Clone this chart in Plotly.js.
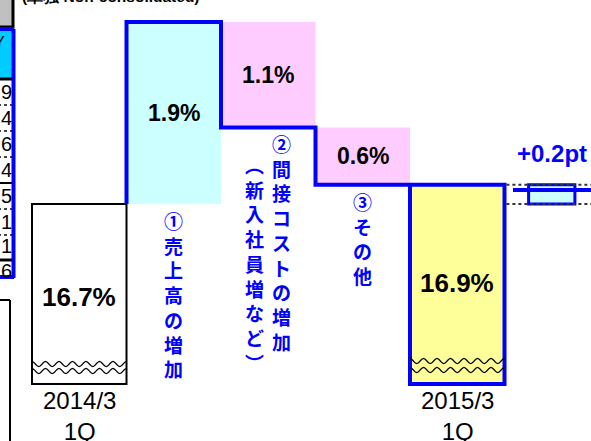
<!DOCTYPE html>
<html><head><meta charset="utf-8">
<script src="https://cdn.plot.ly/plotly-3.0.1.min.js"></script>
<style>html,body{margin:0;padding:0;background:#fff;overflow:hidden}#chart{width:591px;height:441px}</style>
</head><body><div id="chart"></div>
<script>
// ---------------- data ----------------
const periodLabels = ['2014/3<br>1Q', '2015/3<br>1Q'];
const periodMargins = [16.7, 16.9];                 // margin, %
const stepValues = [1.9, -1.1, -0.6];               // change factors, %pt
const stepLabels = ['①売上高の増加', '②間接コストの増加', '③その他'];
const stepNotes = ['', '（新入社員増など）', ''];
const headerNote = '(単独 Non-consolidated)';
const tableHeader = 'Y';
const tableDigits = ['9', '4', '6', '4', '5', '1', '1', '6'];

// ---------------- geometry (layout only) ----------------
const W = 591, H = 441;
const PX_PER_X = 94.5, PX_PER_Y = 95.8;
const X_MIN = -0.5 - 32 / PX_PER_X;
const X_MAX = X_MIN + W / PX_PER_X;
const Y_TOP = 18.6 + 22 / PX_PER_Y;
const Y_MIN = Y_TOP - H / PX_PER_Y;
const AXIS_BREAK = Y_TOP - 384 / PX_PER_Y;   // truncated axis base
const px2x = px => X_MIN + px / PX_PER_X;
const py2y = py => Y_TOP - py / PX_PER_Y;

const BLUE = '#0000FF';
const NUM_FONT = 'Liberation Sans, Arial, sans-serif';
const JP_FONT = 'Noto Sans CJK JP, sans-serif';

// ---------------- traces ----------------
const periodX = [0, stepValues.length + 1];
const traces = [];
traces.push({
  type: 'bar', x: periodX,
  base: periodMargins.map(() => AXIS_BREAK),
  y: periodMargins.map(m => m - AXIS_BREAK),
  width: 1,
  marker: {color: ['#FFFFFF', '#FFFF99'], line: {color: ['#000000', BLUE], width: [2, 4]}},
  hoverinfo: 'skip'
});
let cum = periodMargins[0];
const stepBase = [], stepH = [], stepMid = [], lineX = [0.5], lineY = [cum];
stepValues.forEach((v, i) => {
  const lo = Math.min(cum, cum + v);
  stepBase.push(lo); stepH.push(Math.abs(v)); stepMid.push(lo + Math.abs(v) / 2);
  lineX.push(i + 0.5); lineY.push(cum + v);
  lineX.push(i + 1.5); lineY.push(cum + v);
  cum += v;
});
traces.push({
  type: 'bar', x: stepValues.map((v, i) => i + 1), base: stepBase, y: stepH, width: 1,
  marker: {color: stepValues.map(v => v >= 0 ? '#CCFFFF' : '#FFCCFF'), line: {width: 0}},
  hoverinfo: 'skip'
});
const diff = periodMargins[1] - periodMargins[0];
traces.push({
  type: 'bar', x: [stepValues.length + 2], base: [periodMargins[0]], y: [diff], width: 0.49,
  marker: {color: '#CCFFFF', line: {color: BLUE, width: 3}}, hoverinfo: 'skip'
});
traces.push({
  type: 'scatter', mode: 'lines', x: lineX, y: lineY,
  line: {color: BLUE, width: 4}, hoverinfo: 'skip'
});

// ---------------- shapes ----------------
function wavePath(x0, x1, yPx, periods, amp) {
  const n = periods * 10; let d = '';
  for (let i = 0; i <= n; i++) {
    const t = i / n;
    const x = x0 + (x1 - x0) * t;
    const y = py2y(yPx - amp * Math.cos(2 * Math.PI * periods * t));
    d += (i ? 'L' : 'M') + x.toFixed(4) + ',' + y.toFixed(4);
  }
  return d;
}
const shapes = [];
[[0, 364, 371], [periodX[1], 361, 370]].forEach(([xc, a, b]) => {
  [a, b].forEach(yp => shapes.push({type: 'path', xref: 'x', yref: 'y',
    path: wavePath(xc - 0.5, xc + 0.5, yp, 7, 2.5), line: {color: '#000', width: 1.2}}));
});
periodMargins.forEach(m => shapes.push({type: 'line', xref: 'x', yref: 'y',
  x0: periodX[1] + 0.52, x1: X_MAX, y0: m, y1: m, line: {color: '#333', width: 2, dash: 'dot'}}));
shapes.push({type: 'line', xref: 'x', yref: 'y', x0: px2x(513), x1: X_MAX,
  y0: py2y(190), y1: py2y(190), line: {color: BLUE, width: 4}});

// left partial table (cropped slide)
const R = (x0, y0, x1, y1, fill, lc, lw, dash) => shapes.push({type: 'rect', xref: 'x', yref: 'y',
  x0: px2x(x0), x1: px2x(x1), y0: py2y(y0), y1: py2y(y1), fillcolor: fill,
  line: {color: lc, width: lw, dash: dash || 'solid'}, layer: 'below'});
const L = (x0, y0, x1, y1, lc, lw, dash) => shapes.push({type: 'line', xref: 'x', yref: 'y',
  x0: px2x(x0), x1: px2x(x1), y0: py2y(y0), y1: py2y(y1), line: {color: lc, width: lw, dash: dash || 'solid'}});
R(-6, -6, 13, 27, '#C0C0C0', '#000', 3);
R(-6, 30, 13, 78, '#00CCFF', 'rgba(0,0,0,0)', 0);
const rowLines = [[79, 'solid', 3], [105, 'dot', 2], [131, 'dot', 2], [157, 'dot', 2], [183, 'solid', 2], [209, 'dot', 2], [235, 'dot', 2], [260, 'solid', 3]];
rowLines.forEach(([y, d, w]) => L(-2, y, 13, y, d === 'dot' ? '#444' : '#000', w, d));
L(-6, 29, 14, 29, BLUE, 4); L(13.5, 29, 13.5, 278, BLUE, 4); L(-6, 277, 14, 277, BLUE, 4);
L(-2, 300, 10, 300, '#000', 2); L(10, 300, 10, 445, '#000', 2);

// ---------------- annotations ----------------
const ann = [];
const toVertical = s => Array.from(s.replace(/（/g, '︵').replace(/）/g, '︶')).join('<br>');
periodMargins.forEach((m, i) => {
  ann.push({x: periodX[i], y: (m + AXIS_BREAK) / 2, yshift: i === 0 ? -3 : 1, text: '<b>' + m.toFixed(1) + '%</b>',
    showarrow: false, font: {family: NUM_FONT, size: 26, color: '#000'}});
  ann.push({x: periodX[i], y: py2y(416), text: periodLabels[i], showarrow: false,
    font: {family: NUM_FONT, size: 24, color: '#000'}});
});
let c2 = periodMargins[0];
stepValues.forEach((v, i) => {
  ann.push({x: i + 1, y: stepMid[i], text: '<b>' + Math.abs(v).toFixed(1) + '%</b>', showarrow: false,
    font: {family: NUM_FONT, size: 23, color: '#000'}});
  const bottom = Math.min(c2, c2 + v);
  const hasNote = stepNotes[i] !== '';
  ann.push({x: i + 1, y: bottom, yanchor: 'top', xshift: hasNote ? 13 : 0, yshift: -1,
    text: '<b>' + toVertical(stepLabels[i]) + '</b>', showarrow: false,
    font: {family: JP_FONT, size: 19, color: BLUE}});
  if (hasNote) ann.push({x: i + 1, y: bottom, yanchor: 'top', xshift: -14, yshift: -22,
    text: '<b>' + toVertical(stepNotes[i]) + '</b>', showarrow: false,
    font: {family: JP_FONT, size: 19, color: BLUE}});
  c2 += v;
});
ann.push({x: periodX[1] + 1, y: py2y(153), text: '<b>' + (diff >= 0 ? '+' : '') + diff.toFixed(1) + 'pt</b>',
  showarrow: false, font: {family: NUM_FONT, size: 24, color: BLUE}});
ann.push({xref: 'paper', yref: 'paper', x: 111 / W, y: 1 + 4 / H, xanchor: 'center', yanchor: 'middle',
  text: '<b>' + headerNote + '</b>', showarrow: false,
  font: {family: NUM_FONT, size: 15.5, color: '#000'}});
ann.push({x: px2x(7), y: py2y(42), xanchor: 'right', text: tableHeader, showarrow: false,
  font: {family: NUM_FONT, size: 16, color: '#000'}});
const rowMid = [92, 118, 144, 170, 196, 222, 246, 271];
tableDigits.forEach((d, i) => ann.push({x: px2x(13), y: py2y(rowMid[i]), xanchor: 'right', text: d,
  borderpad: 0, showarrow: false, font: {family: NUM_FONT, size: 20, color: '#000'}}));

const layout = {
  width: W, height: H, margin: {l: 0, r: 0, t: 0, b: 0, pad: 0},
  paper_bgcolor: '#FFFFFF', plot_bgcolor: '#FFFFFF',
  barmode: 'overlay', showlegend: false, hovermode: false,
  xaxis: {range: [X_MIN, X_MAX], visible: false, fixedrange: true},
  yaxis: {range: [Y_MIN, Y_TOP], visible: false, fixedrange: true},
  shapes: shapes, annotations: ann
};
Plotly.newPlot('chart', traces, layout, {staticPlot: true, displayModeBar: false});
</script></body></html>
